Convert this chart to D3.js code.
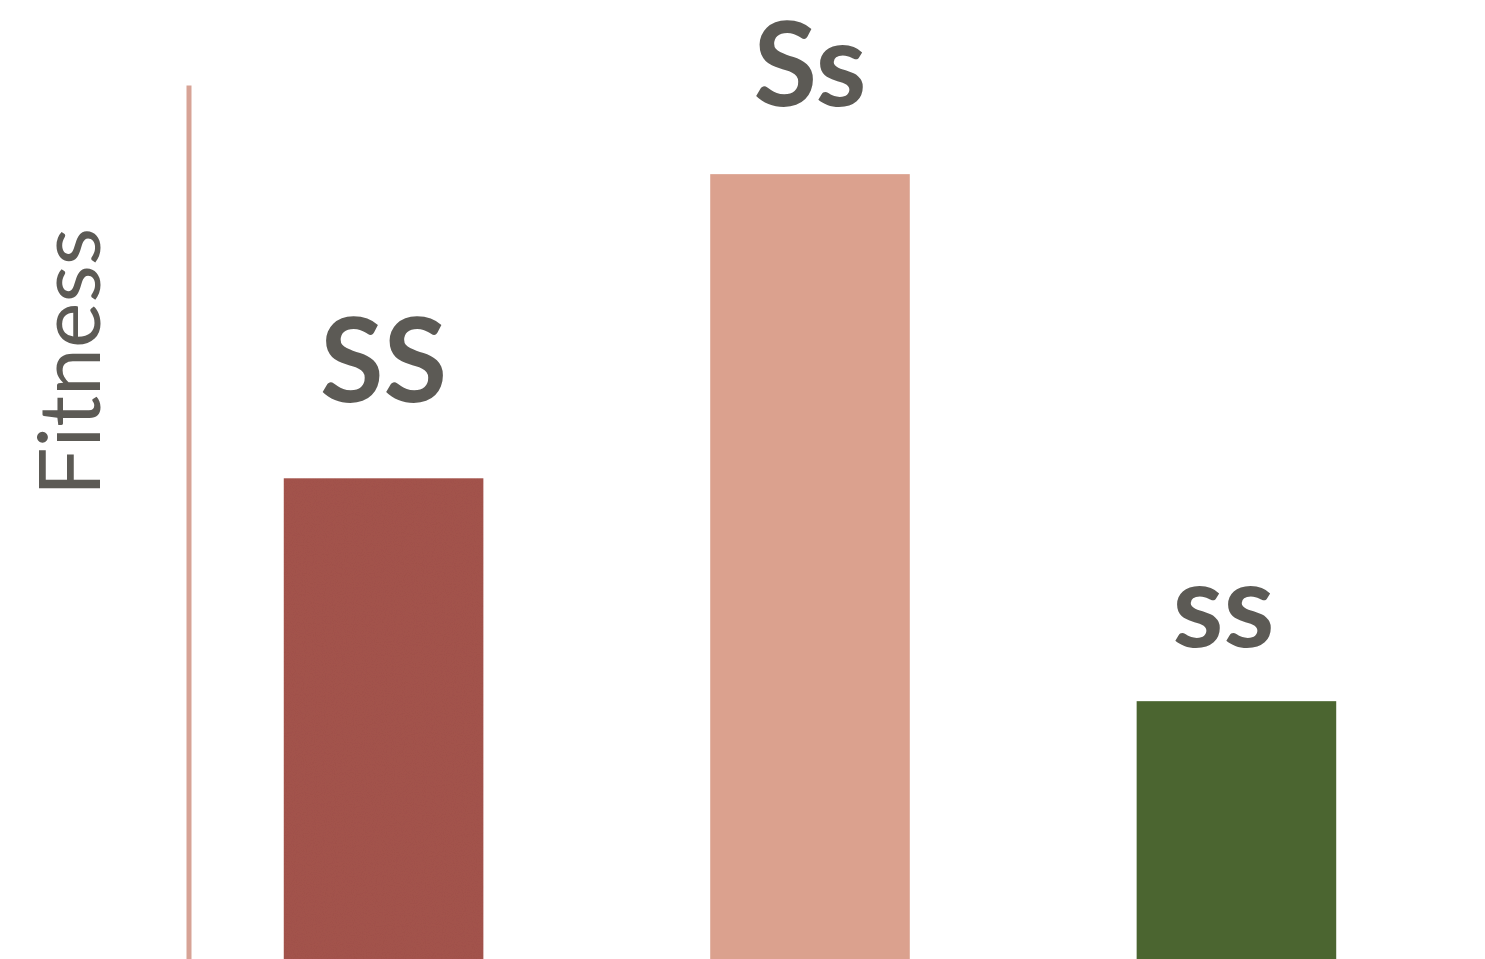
<!DOCTYPE html>
<html>
<head>
<meta charset="utf-8">
<script src="https://cdn.jsdelivr.net/npm/d3@7"></script>
<style>
  html, body { margin: 0; padding: 0; background: #fff; }
  svg { display: block; }
</style>
</head>
<body>
<div id="chart"></div>
<script>
// data
const genotypes = ["SS", "Ss", "ss"];
const fitness   = [0.55, 0.898, 0.295];
const barColors = ["#a5554e", "#dba18e", "#4b6530"];

const width  = 1485;
const height = 959;
const textColor = "#5c5a55";

const svg = d3.select("#chart").append("svg")
    .attr("width", width)
    .attr("height", height);

// subtle paper texture for bars
const defs = svg.append("defs");
const filter = defs.append("filter").attr("id", "grain")
    .attr("x", 0).attr("y", 0).attr("width", 1).attr("height", 1);
filter.append("feTurbulence")
    .attr("type", "fractalNoise")
    .attr("baseFrequency", 0.9)
    .attr("numOctaves", 2)
    .attr("result", "noise");
filter.append("feColorMatrix")
    .attr("in", "noise")
    .attr("type", "matrix")
    .attr("values", "0 0 0 0 0  0 0 0 0 0  0 0 0 0 0  0 0 0 0.08 0")
    .attr("result", "shade");
filter.append("feComposite")
    .attr("in", "shade").attr("in2", "SourceGraphic")
    .attr("operator", "in").attr("result", "shadeIn");
const merge = filter.append("feMerge");
merge.append("feMergeNode").attr("in", "SourceGraphic");
merge.append("feMergeNode").attr("in", "shadeIn");

// scales
const x = d3.scaleBand()
    .domain(genotypes)
    .range([169.5, 1450.5])
    .paddingInner(0.532)
    .paddingOuter(0.268);

const y = d3.scaleLinear()
    .domain([0, 1])
    .range([height, 85]);

// y axis line (no ticks)
const yAxis = d3.axisLeft(y).tickValues([]).tickSizeOuter(0);
const axisG = svg.append("g")
    .attr("transform", "translate(188.5,0)")
    .call(yAxis);
axisG.select(".domain")
    .attr("stroke", "#d7a396")
    .attr("stroke-width", 5);

// axis title
svg.append("text")
    .attr("transform", "translate(100," + 362 + ") rotate(-90)")
    .attr("text-anchor", "middle")
    .attr("font-family", "Lato, 'Open Sans', sans-serif")
    .attr("font-size", 86)
    .attr("fill", textColor)
    .text("Fitness");

const rows = genotypes.map((g, i) => ({name: g, value: fitness[i], color: barColors[i]}));

// bars
svg.selectAll(".bar")
    .data(rows)
    .enter()
    .append("rect")
    .attr("class", "bar")
    .attr("x", d => x(d.name))
    .attr("width", x.bandwidth())
    .attr("y", d => y(d.value))
    .attr("height", d => y(0) - y(d.value))
    .attr("fill", d => d.color)
    .attr("filter", (d, i) => i === 0 ? "url(#grain)" : null);

// labels above bars
const labelGap = {SS: 76, Ss: 68, ss: 54};
const labelShift = {SS: 0, Ss: 0, ss: -13};
svg.selectAll(".bar-label")
    .data(rows)
    .enter()
    .append("text")
    .attr("class", "bar-label")
    .attr("x", d => x(d.name) + x.bandwidth() / 2 + labelShift[d.name])
    .attr("y", d => y(d.value) - labelGap[d.name])
    .attr("text-anchor", "middle")
    .attr("font-family", "Lato, 'Open Sans', sans-serif")
    .attr("font-weight", 700)
    .attr("font-size", 116)
    .attr("fill", textColor)
    .text(d => d.name);
</script>
</body>
</html>
